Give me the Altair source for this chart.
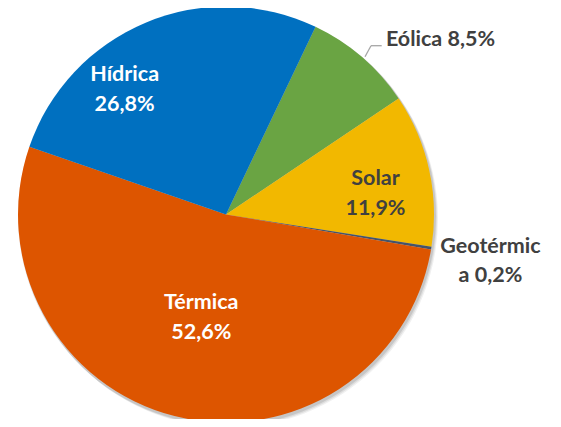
import math
import altair as alt
import pandas as pd

categories = ["Eólica", "Solar", "Geotérmica", "Térmica", "Hídrica"]
values = [8.5, 11.9, 0.2, 52.6, 26.8]
label_text = ["Eólica 8,5%", "Solar\n11,9%", "Geotérmic\na 0,2%", "Térmica\n52,6%", "Hídrica\n26,8%"]
colors = ["#6AA443", "#F2B800", "#44546A", "#DD5500", "#0070C0"]

df = pd.DataFrame({
    "cat": categories,
    "value": values,
    "label": label_text,
    "order": list(range(len(categories))),
})

START = math.radians(25.5)
CX, CY, R = 218, 206.5, 208
FONT = "Lato"

theta_scale = alt.Scale(range=[START, START + 2 * math.pi])
color_scale = alt.Scale(domain=categories, range=colors)

base = alt.Chart(df)

shadow_layers = []
for i, (off, op) in enumerate([(4, 0.06), (3, 0.08), (2, 0.10)]):
    shadow_layers.append(
        base.mark_arc(outerRadius=R + 1, color="#000000", opacity=op).encode(
            theta=alt.Theta("value:Q", stack=True, scale=theta_scale),
            order=alt.Order("order:Q"),
            x=alt.value(CX + off - 1),
            y=alt.value(CY + off),
        )
    )

pie = base.mark_arc(outerRadius=R).encode(
    theta=alt.Theta("value:Q", stack=True, scale=theta_scale),
    color=alt.Color("cat:N", scale=color_scale, legend=None),
    order=alt.Order("order:Q"),
    x=alt.value(CX),
    y=alt.value(CY),
)

lab_base = (
    base.transform_joinaggregate(total="sum(value)")
    .transform_window(cum="sum(value)", sort=[alt.SortField("order")])
    .transform_calculate(mid="(datum.cum - datum.value / 2) / datum.total")
)

label_specs = {
    "Eólica": dict(radius=231, dx=9, dy=0, align="left", color="#404040"),
    "Solar": dict(radius=150, dx=3, dy=-3, align="center", color="#404040"),
    "Geotérmica": dict(radius=268, dx=0, dy=-11, align="center", color="#404040"),
    "Térmica": dict(radius=104, dx=1, dy=-12, align="center", color="#FFFFFF"),
    "Hídrica": dict(radius=138, dx=-48, dy=-12, align="center", color="#FFFFFF"),
}

label_layers = []
for cat, spec in label_specs.items():
    label_layers.append(
        lab_base.transform_filter(alt.datum.cat == cat)
        .mark_text(
            radius=spec["radius"], dx=spec["dx"], dy=spec["dy"], align=spec["align"],
            baseline="middle", font=FONT, fontWeight="bold", fontSize=21.5,
            lineBreak="\n", lineHeight=29.5, color=spec["color"],
        )
        .encode(
            theta=alt.Theta("mid:Q", scale=alt.Scale(domain=[0, 1], range=[START, START + 2 * math.pi])),
            text="label:N",
            x=alt.value(CX),
            y=alt.value(CY),
        )
    )

leader1 = base.transform_filter(alt.datum.cat == "Eólica").mark_rule(color="#A6A6A6", strokeWidth=1.3).encode(
    x=alt.value(357), y=alt.value(48.7), x2=alt.value(363), y2=alt.value(37.7)
)
leader2 = base.transform_filter(alt.datum.cat == "Eólica").mark_rule(color="#A6A6A6", strokeWidth=1.3).encode(
    x=alt.value(363), y=alt.value(37.7), x2=alt.value(373.7), y2=alt.value(37.7)
)

chart = (
    alt.layer(*shadow_layers, pie, leader1, leader2, *label_layers)
    .resolve_scale(theta="independent")
    .properties(width=545, height=411, autosize="none", padding=0, background="#FFFFFF")
    .configure_view(stroke=None)
)

chart.save("out.html", embed_options={"renderer": "svg", "actions": False})
